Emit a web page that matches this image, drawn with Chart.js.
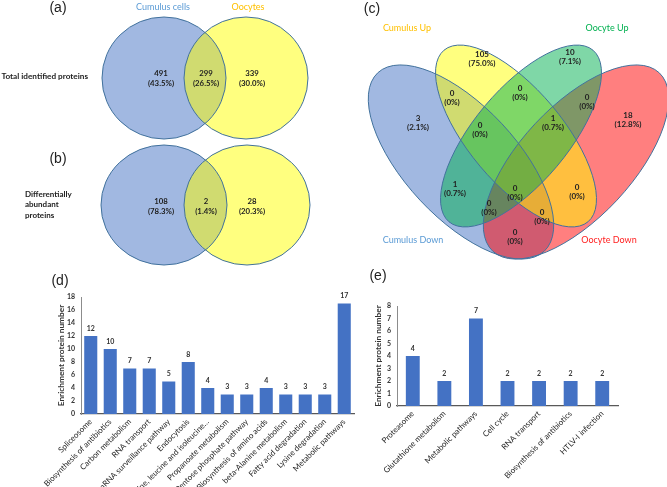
<!DOCTYPE html>
<html>
<head>
<meta charset="utf-8">
<script src="https://cdn.jsdelivr.net/npm/chart.js@4"></script>
<style>
  body { margin: 0; background: #fff; }
  #fig { position: relative; width: 667px; height: 487px; overflow: hidden; background: #fff; }
  canvas { position: absolute; }
</style>
</head>
<body>
<div id="fig">
  <canvas id="venn" width="667" height="290" style="left:0px;top:0px"></canvas>
  <canvas id="barD" width="362" height="202" style="left:0px;top:285px"></canvas>
  <canvas id="barE" width="305" height="202" style="left:362px;top:285px"></canvas>
</div>
<script>
// ---- data ----
const pairSets = ["Cumulus cells", "Oocytes"];
const totalCounts = [491, 299, 339];
const totalPct = ["43.5%", "26.5%", "30.0%"];
const diffCounts = [108, 2, 28];
const diffPct = ["78.3%", "1.4%", "20.3%"];

const quadSets = ["Cumulus Up", "Oocyte Up", "Cumulus Down", "Oocyte Down"];
const quadCounts = [105, 10, 3, 0, 0, 0, 18, 0, 1, 1, 0, 0, 0, 0, 0];
const quadPct = ["75.0%", "7.1%", "2.1%", "0%", "0%", "0%", "12.8%", "0%", "0.7%", "0.7%", "0%", "0%", "0%", "0%", "0%"];

const dCategories = ["Spliceosome", "Biosynthesis of antibiotics", "Carbon metabolism", "RNA transport",
  "mRNA surveillance pathway", "Endocytosis", "Valine, leucine and isoleucine…", "Propanoate metabolism",
  "Pentose phosphate pathway", "Biosynthesis of amino acids", "beta-Alanine metabolism",
  "Fatty acid degradation", "Lysine degradation", "Metabolic pathways"];
const dValues = [12, 10, 7, 7, 5, 8, 4, 3, 3, 4, 3, 3, 3, 17];
const dTicks = [0, 2, 4, 6, 8, 10, 12, 14, 16, 18];

const eCategories = ["Proteasome", "Glutathione metabolism", "Metabolic pathways", "Cell cycle",
  "RNA transport", "Biosynthesis of antibiotics", "HTLV-I infection"];
const eValues = [4, 2, 7, 2, 2, 2, 2];
const eTicks = [0, 1, 2, 3, 4, 5, 6, 7, 8];

// ---- layout (venn drawn in a 667x290 unit space) ----
const FONT = "Lato, 'Open Sans', sans-serif";
const BLUE = "rgba(68,114,196,0.5)", YELLOW = "rgba(255,255,0,0.5)";
const GREEN = "rgba(0,176,80,0.5)", RED = "rgba(255,0,0,0.5)";
const EDGE = "#41719c";

const circlesA = [{ cx: 164, cy: 78, a: 62, b: 61, rot: 0 }, { cx: 246, cy: 78, a: 62, b: 61, rot: 0 }];
const circlesB = [{ cx: 164, cy: 205, a: 63, b: 60, rot: 0 }, { cx: 247, cy: 205, a: 63, b: 60, rot: 0 }];
const pairPosX = [161, 206, 252];

// draw order: Cumulus Down, Oocyte Down, Cumulus Up, Oocyte Up
const quadShapes = [
  { cx: 461, cy: 162, a: 122, b: 56, rot: 47, fill: BLUE },
  { cx: 576, cy: 162, a: 122, b: 56, rot: 133, fill: RED },
  { cx: 516, cy: 136, a: 112, b: 47, rot: 50, fill: YELLOW },
  { cx: 521, cy: 136, a: 112, b: 47, rot: 130, fill: GREEN },
];
const quadPos = [[482, 54], [570, 52], [418, 118], [452, 93], [520, 88], [587, 97], [628, 115],
  [480, 125], [553, 118], [455, 184], [515, 188], [577, 187], [489, 203], [542, 212], [515, 232]];
const quadSetPos = [[407, 28, "#ffc000"], [607, 28, "#00b050"], [413, 240, "#5b9bd5"], [609, 240, "#ff2020"]];

function drawShape(ctx, sx, sy, e) {
  const cx = sx.getPixelForValue(e.cx), cy = sy.getPixelForValue(e.cy);
  const rx = Math.abs(sx.getPixelForValue(e.cx + e.a) - cx);
  const ry = Math.abs(sy.getPixelForValue(e.cy + e.b) - cy);
  ctx.beginPath();
  ctx.ellipse(cx, cy, rx, ry, e.rot * Math.PI / 180, 0, Math.PI * 2);
}

function text(ctx, sx, sy, x, y, str, font, color, align) {
  ctx.font = font;
  ctx.fillStyle = color;
  ctx.textAlign = align || "center";
  ctx.textBaseline = "middle";
  ctx.fillText(str, sx.getPixelForValue(x), sy.getPixelForValue(y));
}

function drawSet(ctx, sx, sy, shapes, fills) {
  shapes.forEach((s, i) => { drawShape(ctx, sx, sy, s); ctx.fillStyle = fills[i]; ctx.fill(); });
  ctx.lineWidth = 1;
  ctx.strokeStyle = EDGE;
  shapes.forEach((s) => { drawShape(ctx, sx, sy, s); ctx.stroke(); });
}

const vennPlugin = {
  id: "venn",
  afterDraw(chart) {
    const ctx = chart.ctx, sx = chart.scales.x, sy = chart.scales.y;
    ctx.save();
    drawSet(ctx, sx, sy, circlesA, [BLUE, YELLOW]);
    drawSet(ctx, sx, sy, circlesB, [BLUE, YELLOW]);
    drawSet(ctx, sx, sy, quadShapes, quadShapes.map((s) => s.fill));

    const num = `bold 7.8px ${FONT}`;
    totalCounts.forEach((v, i) => {
      text(ctx, sx, sy, pairPosX[i], 73, String(v), num, "#222");
      text(ctx, sx, sy, pairPosX[i], 83, `(${totalPct[i]})`, num, "#222");
    });
    diffCounts.forEach((v, i) => {
      text(ctx, sx, sy, pairPosX[i], 201, String(v), num, "#222");
      text(ctx, sx, sy, pairPosX[i], 211, `(${diffPct[i]})`, num, "#222");
    });
    const qnum = `bold 8px ${FONT}`;
    quadCounts.forEach((v, i) => {
      const [x, y] = quadPos[i];
      text(ctx, sx, sy, x, y, String(v), qnum, "#222");
      text(ctx, sx, sy, x, y + 9.5, `(${quadPct[i]})`, qnum, "#222");
    });

    // set names and row labels
    text(ctx, sx, sy, 163, 7, pairSets[0], `9px ${FONT}`, "#5b9bd5");
    text(ctx, sx, sy, 248, 7, pairSets[1], `9px ${FONT}`, "#ffc000");
    text(ctx, sx, sy, 88, 76, "Total identified proteins", `bold 8.2px ${FONT}`, "#222", "right");
    ["Differentially", "abundant", "proteins"].forEach((w, i) =>
      text(ctx, sx, sy, 25, 194 + i * 10.5, w, `bold 8px ${FONT}`, "#222", "left"));
    quadSets.forEach((name, i) => {
      const [x, y, c] = quadSetPos[i];
      text(ctx, sx, sy, x, y, name, `9px ${FONT}`, c);
    });

    // panel letters
    const pf = "14px 'Liberation Sans', Arial, sans-serif";
    [["(a)", 58, 8], ["(b)", 58, 159], ["(c)", 372, 9], ["(d)", 60, 281], ["(e)", 378, 276]].forEach(([t, x, y]) =>
      text(ctx, sx, sy, x, y, t, pf, "#222"));
    ctx.restore();
  },
};

new Chart(document.getElementById("venn"), {
  type: "scatter",
  data: { datasets: [{ data: [] }] },
  options: {
    responsive: false,
    animation: false,
    layout: { padding: 0 },
    plugins: { legend: { display: false }, tooltip: { enabled: false } },
    scales: {
      x: { type: "linear", min: 0, max: 667, display: false },
      y: { type: "linear", min: 0, max: 290, reverse: true, display: false },
    },
  },
  plugins: [vennPlugin],
});

// value labels above bars
const valueLabels = {
  id: "valueLabels",
  afterDatasetsDraw(chart) {
    const ctx = chart.ctx;
    const values = chart.data.datasets[0].data;
    ctx.save();
    ctx.font = `bold 7px ${FONT}`;
    ctx.fillStyle = "#333";
    ctx.textAlign = "center";
    ctx.textBaseline = "bottom";
    chart.getDatasetMeta(0).data.forEach((bar, i) => ctx.fillText(values[i], bar.x, bar.y - 4));
    ctx.restore();
  },
};

function barChart(id, labels, values, ticks, o) {
  return new Chart(document.getElementById(id), {
    type: "bar",
    data: {
      labels: labels,
      datasets: [{ data: values, backgroundColor: "#4472c4", barPercentage: o.bar, categoryPercentage: 1 }],
    },
    options: {
      responsive: false,
      animation: false,
      layout: { padding: o.pad },
      plugins: { legend: { display: false }, tooltip: { enabled: false } },
      scales: {
        x: {
          grid: { display: false, drawTicks: false },
          border: { color: "#595959", width: 1.3 },
          ticks: { autoSkip: false, minRotation: 45, maxRotation: 45, padding: 3, color: "#262626",
            font: { family: FONT, size: 8 } },
          afterFit: (s) => { s.height = o.xh; },
        },
        y: {
          min: ticks[0],
          max: ticks[ticks.length - 1],
          afterBuildTicks: (s) => { s.ticks = ticks.map((v) => ({ value: v })); },
          grid: { display: false, drawTicks: false },
          border: { color: "#8c8c8c", width: 1 },
          ticks: { padding: 6, color: "#333", font: { family: FONT, size: 7, weight: "bold" } },
          title: { display: true, text: "Enrichment protein number", color: "#333",
            font: { family: FONT, size: 8.3, weight: "bold" }, padding: { top: 4, bottom: 4 } },
          afterFit: (s) => { s.width = o.yw; },
        },
      },
    },
    plugins: [valueLabels],
  });
}

barChart("barD", dCategories, dValues, dTicks,
  { bar: 0.67, pad: { left: 52, top: 12, right: 8, bottom: 0 }, xh: 73, yw: 29 });
barChart("barE", eCategories, eValues, eTicks,
  { bar: 0.44, pad: { left: 7, top: 21, right: 49, bottom: 0 }, xh: 81, yw: 28 });
</script>
</body>
</html>
